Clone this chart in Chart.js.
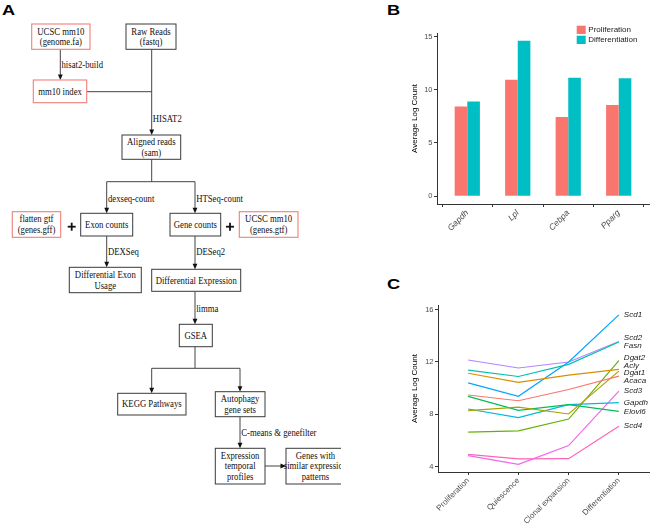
<!DOCTYPE html>
<html><head><meta charset="utf-8">
<script src="https://cdn.jsdelivr.net/npm/chart.js@4.4.0/dist/chart.umd.min.js"></script>
<style>
html,body{margin:0;padding:0;background:#fff;width:650px;height:523px;overflow:hidden;position:relative;}
.panel{position:absolute;font-family:"Liberation Sans",Arial,sans-serif;font-weight:bold;font-size:14px;line-height:14px;transform-origin:left top;transform:scaleX(1.3);color:#000;}
#flow{position:absolute;left:0;top:0;overflow:hidden;}
#cB{position:absolute;left:400px;top:0;}
#cC{position:absolute;left:400px;top:290px;}
</style></head><body>
<div class="panel" style="left:2px;top:3px">A</div>
<div class="panel" style="left:387px;top:3px">B</div>
<div class="panel" style="left:387px;top:277px">C</div>
<svg id="flow" width="341" height="523" xmlns="http://www.w3.org/2000/svg"></svg>
<canvas id="cB" width="250" height="260"></canvas>
<canvas id="cC" width="250" height="233"></canvas>
<script>
// ---------- Panel B data ----------
const genesB = ['Gapdh', 'Lpl', 'Cebpa', 'Pparg'];
const proliferationB = [8.42, 10.94, 7.43, 8.57];
const differentiationB = [8.89, 14.6, 11.13, 11.09];
const yTicksB = [0, 5, 10, 15];

// ---------- Panel C data ----------
const stagesC = ['Proliferation', 'Quiescence', 'Clonal expansion', 'Differentiation'];
const Acaca  = [9.48, 9.04, 9.9, 10.92];
const Acly   = [11.14, 10.44, 11.0, 11.44];
const Dgat1  = [8.28, 8.56, 8.03, 11.3];
const Dgat2  = [6.64, 6.74, 7.64, 12.1];
const Elovl6 = [9.37, 8.3, 8.74, 8.23];
const Fasn   = [11.38, 10.89, 11.82, 13.52];
const Gapdh  = [8.41, 7.75, 8.74, 8.9];
const Scd1   = [10.41, 9.38, 12.0, 15.6];
const Scd2   = [12.15, 11.54, 12.0, 13.56];
const Scd3   = [4.85, 4.18, 5.62, 9.77];
const Scd4   = [4.95, 4.6, 4.62, 7.1];
const genesC = ['Acaca','Acly','Dgat1','Dgat2','Elovl6','Fasn','Gapdh','Scd1','Scd2','Scd3','Scd4'];
const valuesC = [Acaca, Acly, Dgat1, Dgat2, Elovl6, Fasn, Gapdh, Scd1, Scd2, Scd3, Scd4];
const yTicksC = [4, 8, 12, 16];

// styles
const colorsB = ['#F8766D', '#00BFC4'];
const colorsC = ['#F8766D','#DB8E00','#AEA200','#64B200','#00BD5C','#00C1A7','#00BADE','#00A6FF','#B385FF','#EF67EB','#FF63B6'];
const SANS = '"Liberation Sans", Arial, sans-serif';

// ---------- Panel A flowchart layout ----------
const nodes = [
  {b:[31.7,24,90,49.3], red:true, t:['UCSC mm10','(genome.fa)']},
  {b:[126,24,176,49.3], t:['Raw Reads','(fastq)']},
  {b:[33.3,80,86.7,102.7], red:true, t:['mm10 index']},
  {b:[122,135,180.7,159.3], t:['Aligned reads','(sam)']},
  {b:[12.3,211.7,60.7,237.3], red:true, t:['flatten gtf','(genes.gff)']},
  {b:[80.7,213.3,132.7,236], t:['Exon counts']},
  {b:[170,213.3,220.7,236], t:['Gene counts']},
  {b:[239.3,211.7,298,237.3], red:true, t:['UCSC mm10','(genes.gtf)']},
  {b:[69.3,267.3,141.3,292.7], t:['Differential Exon','Usage']},
  {b:[151.7,269.3,240.7,291.3], t:['Differential Expression']},
  {b:[179.3,324.3,212.3,346.7], t:['GSEA']},
  {b:[117.7,393.3,186,415], t:['KEGG Pathways']},
  {b:[215.3,391.7,265,416.7], t:['Autophagy','gene sets']},
  {b:[215.3,448.3,265,484], t:['Expression','temporal','profiles']},
  {b:[286,448.3,345,484], t:['Genes with','similar expression','patterns']}
];
const edges = [
  {p:[[60.3,49.3],[60.3,80]], a:'down'},
  {p:[[86.7,91.7],[151.7,91.7]]},
  {p:[[151.7,49.3],[151.7,135]], a:'down'},
  {p:[[151.7,159.3],[151.7,181.7]]},
  {p:[[106.7,181.7],[195,181.7]]},
  {p:[[106.7,181.7],[106.7,213.3]], a:'down'},
  {p:[[195,181.7],[195,213.3]], a:'down'},
  {p:[[106.7,236],[106.7,267.3]], a:'down'},
  {p:[[195,236],[195,269.3]], a:'down'},
  {p:[[195,291.3],[195,324.3]], a:'down'},
  {p:[[195,346.7],[195,368.3]]},
  {p:[[151.7,368.3],[240,368.3]]},
  {p:[[151.7,368.3],[151.7,393.3]], a:'down'},
  {p:[[240,368.3],[240,391.7]], a:'down'},
  {p:[[240,416.7],[240,448.3]], a:'down'},
  {p:[[265,466],[286,466]], a:'right'}
];
const edgeLabels = [
  ['hisat2-build',61.5,65], ['HISAT2',152.8,118.3], ['dexseq-count',108,198.3], ['HTSeq-count',196.2,198.3],
  ['DEXSeq',108,251.7], ['DESeq2',196.2,251.7], ['limma',196.2,309], ['C-means & genefilter',241.2,432.7]
];
const plusSigns = [[71.7,226.7],[230,226.7]];

(function drawFlow(){
  const SERIF = 'Liberation Serif, Times New Roman, serif';
  const FS = 10, SX = 0.87, LH = 10.6;
  let s = '';
  const esc = t => t.replace(/&/g,'&amp;');
  const text = (str, x, y, anchor) =>
    `<text transform="translate(${x},${y}) scale(${SX},1)" x="0" y="0" font-family="${SERIF}" font-size="${FS}" fill="#111" text-anchor="${anchor}" dominant-baseline="central">${esc(str)}</text>`;
  edges.forEach(e => {
    const end = e.p[e.p.length-1];
    const pp = e.p.slice();
    if (e.a === 'down') pp[pp.length-1] = [end[0], end[1]-4];
    if (e.a === 'right') pp[pp.length-1] = [end[0]-4, end[1]];
    s += `<polyline points="${pp.map(q=>q.join(',')).join(' ')}" fill="none" stroke="#444" stroke-width="1"/>`;
    if (e.a === 'down') {
      const [x,y] = end;
      s += `<polygon points="${x-2.4},${y-5.5} ${x+2.4},${y-5.5} ${x},${y}" fill="#111"/>`;
    } else if (e.a === 'right') {
      const [x,y] = end;
      s += `<polygon points="${x-5.5},${y-2.4} ${x-5.5},${y+2.4} ${x},${y}" fill="#111"/>`;
    }
  });
  nodes.forEach(n => {
    const [x1,y1,x2,y2] = n.b;
    s += `<rect x="${x1}" y="${y1}" width="${x2-x1}" height="${y2-y1}" fill="#fff" stroke="${n.red ? '#F07F7A' : '#3a3a3a'}" stroke-width="${n.red ? 1.1 : 1}"/>`;
    const cx = (x1+x2)/2, cy = (y1+y2)/2;
    n.t.forEach((line, i) => { s += text(line, cx, cy + (i - (n.t.length-1)/2) * LH, 'middle'); });
  });
  edgeLabels.forEach(([str,x,y]) => { s += text(str, x, y, 'start'); });
  plusSigns.forEach(([x,y]) => {
    s += `<line x1="${x-4}" y1="${y}" x2="${x+4}" y2="${y}" stroke="#111" stroke-width="1.8"/>`;
    s += `<line x1="${x}" y1="${y-4}" x2="${x}" y2="${y+4}" stroke="#111" stroke-width="1.8"/>`;
  });
  document.getElementById('flow').innerHTML = s;
})();

function axisStyle() {
  return {
    grid: {display:true, drawOnChartArea:false, drawTicks:true, tickLength:3, tickColor:'#333', tickWidth:1},
    border: {display:true, color:'#333', width:1}
  };
}

// ---------- Panel B ----------
const legendPluginB = {
  id: 'legendB',
  afterDraw(chart) {
    const ctx = chart.ctx, ca = chart.chartArea;
    ctx.save();
    chart.data.datasets.forEach((ds, i) => {
      const x = ca.right - 72.3, y = ca.top - 7.3 + i * 10;
      ctx.fillStyle = ds.backgroundColor;
      ctx.fillRect(x, y, 9, 8.3);
      ctx.fillStyle = '#1a1a1a';
      ctx.font = '8px ' + SANS;
      ctx.textBaseline = 'middle';
      ctx.textAlign = 'left';
      ctx.fillText(ds.label, x + 11.6, y + 4.4);
    });
    ctx.restore();
  }
};

new Chart(document.getElementById('cB'), {
  type: 'bar',
  data: {
    datasets: [
      {label:'Proliferation', data: proliferationB.map((v,i)=>({x:i, y:v})), backgroundColor: colorsB[0], borderWidth:0},
      {label:'Differentiation', data: differentiationB.map((v,i)=>({x:i, y:v})), backgroundColor: colorsB[1], borderWidth:0}
    ]
  },
  options: {
    responsive:false, animation:false,
    layout:{padding:{left:10, top:33, right:1, bottom:0}},
    plugins:{legend:{display:false}, tooltip:{enabled:false}},
    datasets:{bar:{categoryPercentage:0.5, barPercentage:1}},
    scales:{
      x: Object.assign(axisStyle(), {
        type:'linear', min:-0.6, max:3.6, offset:false,
        afterBuildTicks: s => { s.ticks = genesB.map((g,i)=>({value:i})); },
        afterFit: s => { s.height = 56; },
        ticks:{autoSkip:false, minRotation:45, maxRotation:45, padding:1, color:'#4D4D4D',
               font:{family:SANS, size:8.5, style:'italic'}, callback: v => genesB[Math.round(v)]}
      }),
      y: Object.assign(axisStyle(), {
        min:-0.73, max:15.33,
        afterBuildTicks: s => { s.ticks = yTicksB.map(v=>({value:v})); },
        afterFit: s => { s.width = 27; },
        ticks:{padding:1.5, color:'#4D4D4D', font:{family:SANS, size:7.5}},
        title:{display:true, text:'Average Log Count', padding:0, color:'#000', font:{family:SANS, size:8}}
      })
    }
  },
  plugins:[legendPluginB]
});

// ---------- Panel C ----------
const endLabelPlugin = {
  id: 'endLabels',
  afterDatasetsDraw(chart) {
    const ctx = chart.ctx;
    const items = chart.data.datasets.map((ds, i) => {
      const meta = chart.getDatasetMeta(i);
      const pt = meta.data[meta.data.length - 1];
      return {label: ds.label, x: pt.x + 5, y: pt.y};
    }).sort((a,b)=>a.y-b.y);
    const gap = 7.5;
    for (let it = 0; it < 300; it++) {
      for (let k = 0; k < items.length - 1; k++) {
        const d = items[k+1].y - items[k].y;
        if (d < gap) { const o = (gap - d) / 2; items[k].y -= o; items[k+1].y += o; }
      }
    }
    ctx.save();
    ctx.font = 'italic 8px ' + SANS;
    ctx.fillStyle = '#222';
    ctx.textBaseline = 'middle';
    ctx.textAlign = 'left';
    items.forEach(o => ctx.fillText(o.label, o.x, o.y));
    ctx.restore();
  }
};

new Chart(document.getElementById('cC'), {
  type: 'line',
  data: {
    datasets: genesC.map((g, i) => ({
      label: g,
      data: valuesC[i].map((v, j) => ({x:j, y:v})),
      borderColor: colorsC[i], backgroundColor: colorsC[i],
      borderWidth: 1.2, pointRadius: 0, tension: 0, fill:false
    }))
  },
  options: {
    responsive:false, animation:false,
    layout:{padding:{left:10, top:15, right:1, bottom:0}},
    plugins:{legend:{display:false}, tooltip:{enabled:false}},
    scales:{
      x: Object.assign(axisStyle(), {
        type:'linear', min:-0.6, max:3.6, offset:false,
        afterBuildTicks: s => { s.ticks = stagesC.map((g,i)=>({value:i})); },
        afterFit: s => { s.height = 51; },
        ticks:{autoSkip:false, minRotation:45, maxRotation:45, padding:1, color:'#4D4D4D',
               font:{family:SANS, size:8}, callback: v => stagesC[Math.round(v)]}
      }),
      y: Object.assign(axisStyle(), {
        min:3.6, max:16.35,
        afterBuildTicks: s => { s.ticks = yTicksC.map(v=>({value:v})); },
        afterFit: s => { s.width = 28; },
        ticks:{padding:1.5, color:'#4D4D4D', font:{family:SANS, size:7.5}},
        title:{display:true, text:'Average Log Count', padding:0, color:'#000', font:{family:SANS, size:8}}
      })
    }
  },
  plugins:[endLabelPlugin]
});
</script>
</body></html>
